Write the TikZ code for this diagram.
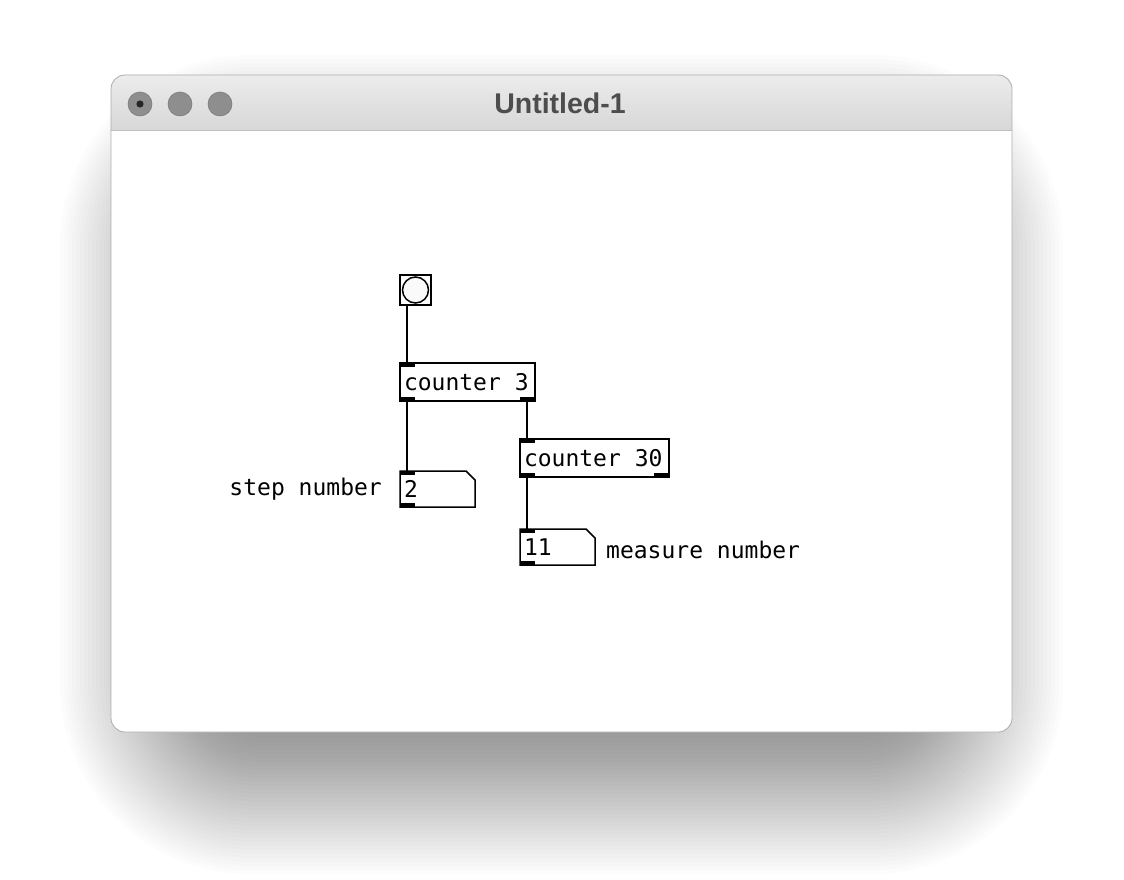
\documentclass[tikz,border=0pt]{standalone}
\usepackage{fontspec}
\newfontfamily\pdfont{DejaVu Sans Mono}
\newfontfamily\titlefont{Liberation Sans}
\definecolor{tbtop}{HTML}{ECECEC}
\definecolor{tbbot}{HTML}{D7D7D7}
\definecolor{light}{HTML}{8E8E8E}
\definecolor{lightedge}{HTML}{7C7C7C}
\definecolor{titlecol}{HTML}{4D4D4D}
\definecolor{sepcol}{HTML}{BDBDBD}
\tikzset{
  pdbox/.style={draw=black, line width=1.5pt, fill=white, anchor=north west, outer sep=0pt,
    inner ysep=0pt, inner xsep=4pt, font=\pdfont\fontsize{23}{23}\selectfont},
  pdnum/.style={anchor=north west, outer sep=0pt, inner ysep=0pt, inner xsep=4pt, font=\pdfont\fontsize{23}{23}\selectfont},
  pdlabel/.style={inner sep=0pt, font=\pdfont\fontsize{23}{23}\selectfont},
  conn/.style={line width=2pt, black},
  port/.style={fill=black},
  outline/.style={draw=black, line width=1.5pt, fill=white},
  tlight/.style={circle, fill=light, draw=lightedge, line width=0.6pt, minimum size=24, inner sep=0pt}
}
\begin{document}
\begin{tikzpicture}[x=1pt,y=-1pt]
\useasboundingbox (0,0) rectangle (1124,880);
\fill[white] (0,0) rectangle (1124,880);
% soft drop shadow
\foreach \i in {0,...,50}{
  \pgfmathsetmacro{\e}{-100+4*\i}
  \pgfmathsetmacro{\r}{max(4,10+0.9*(\e+100))}
  \fill[black, opacity=0.0105, rounded corners=\r]
    ({160-\e},{155-\e}) rectangle ({963+\e},{774+\e});
}
% window
\fill[white, rounded corners=14] (111,75) rectangle (1012,732);
\begin{scope}
  \clip[rounded corners=14] (111,75) rectangle (1012,732);
  \shade[top color=tbtop, bottom color=tbbot] (111,75) rectangle (1012,131);
\end{scope}
\draw[sepcol, line width=1pt] (111,131) -- (1012,131);
\draw[black!32, line width=0.8pt, rounded corners=14] (111,75) rectangle (1012,732);
% traffic lights
\node[tlight] (l1) at (140,104) {};
\node[tlight] (l2) at (180,104) {};
\node[tlight] (l3) at (220,104) {};
\fill[black!85] (l1.center) circle (3.6);
\node[font=\titlefont\bfseries\fontsize{28.5}{28.5}\selectfont, text=titlecol, inner sep=0pt] (title) at (560,103) {Untitled-1};

% bang
\node[draw=black, line width=1.5pt, fill=white, minimum width=31, minimum height=30, inner sep=0pt, outer sep=0pt, anchor=north west] (bang) at (400,275) {};
\draw[black, line width=1.5pt, fill=white!98!black] (bang.center) circle (13);

% counter 3
\node[pdbox, minimum height=38] (c3) at (400,363) {\makebox[127pt][l]{counter 3}};
\fill[port] (c3.north west) rectangle ++(15,4);
\fill[port] (c3.south west) rectangle ++(15,-4);
\fill[port] (c3.south east) rectangle ++(-15,-4);

% counter 30
\node[pdbox, minimum height=38] (c30) at (520,439) {\makebox[141pt][l]{counter 30}};
\fill[port] (c30.north west) rectangle ++(15,4);
\fill[port] (c30.south west) rectangle ++(15,-4);
\fill[port] (c30.south east) rectangle ++(-15,-4);

% number box 2
\draw[outline] (400,471) -- (466,471) -- (475,480) -- (475,507) -- (400,507) -- cycle;
\node[pdnum, minimum height=36] (n2) at (400,471) {\makebox[67pt][l]{2}};
\fill[port] (n2.north west) rectangle ++(15,4);
\fill[port] (n2.south west) rectangle ++(15,-4);

% number box 11
\draw[outline] (520,529) -- (586,529) -- (595,538) -- (595,565) -- (520,565) -- cycle;
\node[pdnum, minimum height=36] (n11) at (520,529) {\makebox[67pt][l]{11}};
\fill[port] (n11.north west) rectangle ++(15,4);
\fill[port] (n11.south west) rectangle ++(15,-4);

% labels
\node[pdlabel, anchor=east] (lstep) at (382,489) {step number};
\node[pdlabel, anchor=west] (lmeas) at (606,550) {measure number};

% connections
\draw[conn] ([xshift=7]bang.south west) -- ([xshift=7]c3.north west);
\draw[conn] ([xshift=7]c3.south west) -- ([xshift=7]n2.north west);
\draw[conn] ([xshift=-8]c3.south east) -- ([xshift=7]c30.north west);
\draw[conn] ([xshift=7]c30.south west) -- ([xshift=7]n11.north west);
\end{tikzpicture}
\end{document}
